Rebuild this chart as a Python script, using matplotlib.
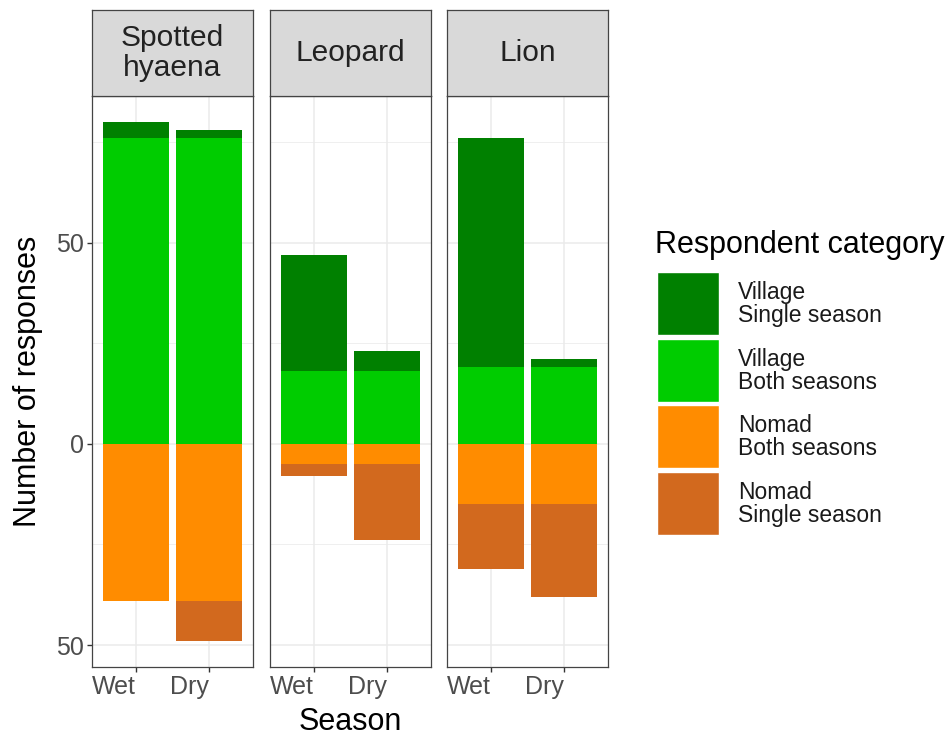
import matplotlib
matplotlib.use("Agg")
import matplotlib.pyplot as plt
from matplotlib.patches import Rectangle
import numpy as np

plt.rcParams['font.family'] = ['Liberation Sans', 'DejaVu Sans']

species = ["Spotted\nhyaena", "Leopard", "Lion"]
seasons = ["Wet", "Dry"]
categories = ["Village\nSingle season", "Village\nBoth seasons",
              "Nomad\nBoth seasons", "Nomad\nSingle season"]
colors = ["#008000", "#00CC00", "#FF8C00", "#D2691E"]

# values per species: [Wet, Dry]
village_single = [[4, 2], [29, 5], [57, 2]]
village_both = [[76, 76], [18, 18], [19, 19]]
nomad_both = [[39, 39], [5, 5], [15, 15]]
nomad_single = [[0, 10], [3, 19], [16, 23]]

W, H = 952, 741
fig = plt.figure(figsize=(W / 100, H / 100), dpi=100)

def fx(px):
    return px / W

def fy(py):
    return 1 - py / H

panel_x = [(92, 253), (270, 431), (447, 608)]
panel_top, panel_bot = 96, 667
strip_top = 10

ymin = -49 - 0.05 * 129
ymax = 80 + 0.05 * 129

grid_col = "#EBEBEB"
for i, sp in enumerate(species):
    x0, x1 = panel_x[i]
    ax = fig.add_axes([fx(x0), fy(panel_bot), fx(x1 - x0), fy(panel_top) - fy(panel_bot)])
    xs = np.arange(len(seasons)) + 1
    vb = np.array(village_both[i])
    vs = np.array(village_single[i])
    nb = np.array(nomad_both[i])
    ns = np.array(nomad_single[i])
    ax.bar(xs, vb, width=0.9, color=colors[1], zorder=2)
    ax.bar(xs, vs, width=0.9, bottom=vb, color=colors[0], zorder=2)
    ax.bar(xs, -nb, width=0.9, color=colors[2], zorder=2)
    ax.bar(xs, -ns, width=0.9, bottom=-nb, color=colors[3], zorder=2)
    ax.set_xlim(0.4, 2.6)
    ax.set_ylim(ymin, ymax)
    ax.set_yticks([-50, 0, 50])
    ax.set_yticks([-25, 25, 75], minor=True)
    ax.set_xticks(xs)
    ax.grid(True, which='major', color=grid_col, linewidth=1.1, zorder=0)
    ax.grid(True, which='minor', axis='y', color=grid_col, linewidth=0.55, zorder=0)
    ax.set_axisbelow(True)
    for s in ax.spines.values():
        s.set_color("#444444")
        s.set_linewidth(0.9)
    ax.tick_params(axis='both', which='major', length=3.6, width=1.0, color="#333333",
                   labelcolor="#4D4D4D", labelsize=18, pad=2)
    ax.tick_params(axis='y', which='minor', length=0)
    ax.set_xticklabels(seasons, ha='right')
    if i == 0:
        ax.set_yticklabels([str(abs(v)) for v in [-50, 0, 50]])
    else:
        ax.set_yticklabels([])
        ax.tick_params(axis='y', which='major', length=0)
    # strip
    sax = fig.add_axes([fx(x0), fy(panel_top), fx(x1 - x0), fy(strip_top) - fy(panel_top)])
    sax.set_facecolor("#D9D9D9")
    sax.set_xticks([])
    sax.set_yticks([])
    for s in sax.spines.values():
        s.set_color("#444444")
        s.set_linewidth(0.9)
    sax.text(0.5, 0.5, sp, ha='center', va='center', fontsize=21.5, color="#222222",
             transform=sax.transAxes, linespacing=1.05)

# axis titles
fig.text(fx(28), fy((panel_top + panel_bot) / 2), "Number of responses", rotation=90,
         ha='center', va='center', fontsize=22, color="black")
fig.text(fx(350), fy(722), "Season", ha='center', va='center', fontsize=22, color="black")

# legend
fig.text(fx(655), fy(253), "Respondent category", ha='left', va='baseline',
         fontsize=22, color="black")
key_tops = [272, 339, 405, 472]
for j, cat in enumerate(categories):
    top = key_tops[j]
    fig.patches.append(Rectangle((fx(657), fy(top + 63)), fx(62), fy(top) - fy(top + 63),
                                 facecolor=colors[j], edgecolor='white', linewidth=1,
                                 transform=fig.transFigure, figure=fig))
    fig.text(fx(738), fy(top + 32), cat, ha='left', va='center', fontsize=16.5,
             color="#1A1A1A", linespacing=1.0)

fig.savefig("out.png", dpi=100)
